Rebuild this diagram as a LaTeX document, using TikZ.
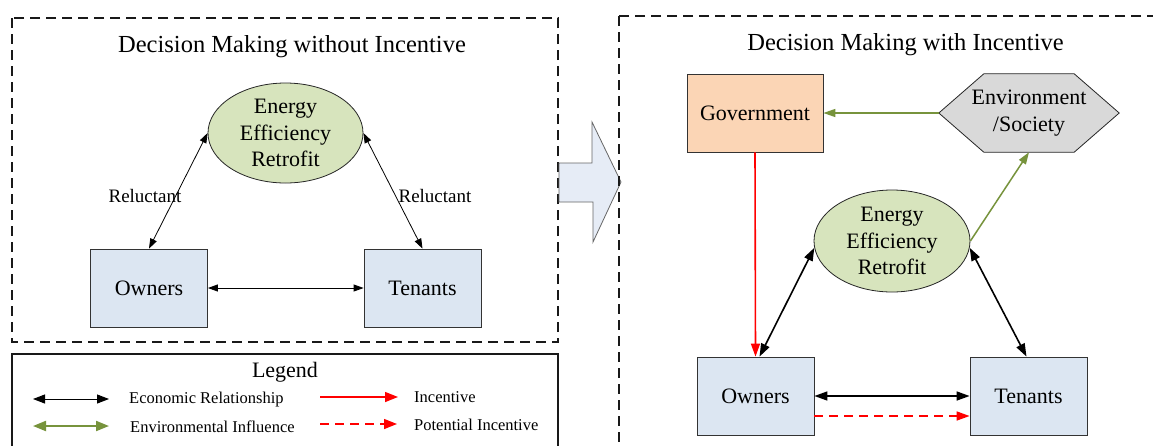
\documentclass[tikz,border=0pt]{standalone}
\usepackage{fontspec}
\setmainfont{Liberation Serif}
\usetikzlibrary{arrows.meta,shapes.geometric,calc}
\definecolor{boxblue}{HTML}{DCE6F2}
\definecolor{eegreen}{HTML}{D7E4BD}
\definecolor{govorange}{HTML}{FBD5B5}
\definecolor{envgray}{HTML}{D9D9D9}
\definecolor{envline}{HTML}{77933C}
\definecolor{blockfill}{HTML}{E6ECF6}
\definecolor{incred}{HTML}{FF0000}
\tikzset{
  x=1pt, y=-1pt,
  nodefont/.style={font=\fontsize{22}{26.5}\selectfont},
  actor/.style={draw=black!80, line width=0.8pt, fill=boxblue, minimum width=117pt, minimum height=78pt, inner sep=0pt, nodefont},
  eer/.style={ellipse, draw=black!85, line width=0.8pt, fill=eegreen, inner sep=0pt, align=center, nodefont},
  titletext/.style={font=\fontsize{24.5}{29}\selectfont},
  relabel/.style={font=\fontsize{19}{22}\selectfont, inner sep=0pt},
  legtext/.style={font=\fontsize{16.5}{19}\selectfont, anchor=west, inner sep=0pt},
  panelbox/.style={draw=black!90, line width=1.7pt, dash pattern=on 10pt off 6pt},
  thinarr/.style={{Triangle[length=10pt,width=7pt]}-{Triangle[length=10pt,width=7pt]}, line width=0.8pt, black},
  thickarr/.style={{Triangle[length=13pt,width=9pt]}-{Triangle[length=13pt,width=9pt]}, line width=1.6pt, black},
  greenarr/.style={-{Triangle[length=12pt,width=8pt]}, line width=1.5pt, envline},
  redarr/.style={-{Triangle[length=13pt,width=9pt]}, line width=1.6pt, incred},
  legblack/.style={{Triangle[length=12pt,width=9pt]}-{Triangle[length=12pt,width=9pt]}, line width=1pt, black},
  leggreen/.style={{Triangle[length=13pt,width=10pt]}-{Triangle[length=13pt,width=10pt]}, line width=2pt, envline},
  legred/.style={-{Triangle[length=13pt,width=10pt]}, line width=1.4pt, incred},
}
\begin{document}
\begin{tikzpicture}
\clip (0,0) rectangle (1153,445);
\useasboundingbox (0,0) rectangle (1153,445);
\fill[white] (0,0) rectangle (1153,445);

% ---------- left panel ----------
\draw[panelbox] (12,18) rectangle (558,342);
\node[titletext] (titleL) at (292,47) {Decision Making without Incentive};
\node[eer, minimum width=155pt, minimum height=100pt] (eeL) at (285.5,133) {Energy\\Efficiency\\Retrofit};
\node[actor] (ownL) at (149,288) {Owners};
\node[actor] (tenL) at (422.5,288) {Tenants};
\draw[thinarr] (eeL.west) -- (ownL.north);
\draw[thinarr] (eeL.east) -- (tenL.north);
\draw[thinarr] (ownL.east) -- (tenL.west);
\node[relabel] (relL) at (145,196) {Reluctant};
\node[relabel] (relR) at (435,196) {Reluctant};

% ---------- legend ----------
\draw[draw=black!90, line width=1.5pt] (12,354) rectangle (558,460);
\node[font=\fontsize{22}{26}\selectfont] (legT) at (285,372) {Legend};
\coordinate (l1a) at (33,399); \coordinate (l1b) at (109,399);
\draw[legblack] (l1a) -- (l1b);
\node[legtext] (l1t) at (129,399.5) {Economic Relationship};
\coordinate (l2a) at (33,426); \coordinate (l2b) at (109,426);
\draw[leggreen] (l2a) -- (l2b);
\node[legtext] (l2t) at (130,426.5) {Environmental Influence};
\coordinate (l3a) at (320,397); \coordinate (l3b) at (398,397);
\draw[legred] (l3a) -- (l3b);
\node[legtext] (l3t) at (414,397) {Incentive};
\coordinate (l4a) at (320,424); \coordinate (l4b) at (397,424);
\draw[legred, dash pattern=on 9pt off 6pt] (l4a) -- (l4b);
\node[legtext] (l4t) at (414,424.5) {Potential Incentive};

% ---------- block arrow ----------
\draw[draw=black!60, line width=0.8pt, fill=blockfill] (559,163) -- (592,163) -- (592,122) -- (621,182) -- (593,242) -- (593,202) -- (559,202) -- cycle;

% ---------- right panel ----------
\draw[panelbox] (619,16) rectangle (1170,470);
\node[titletext] (titleR) at (905.5,45) {Decision Making with Incentive};
\node[draw=black!80, line width=0.8pt, fill=govorange, minimum width=136pt, minimum height=78pt, inner sep=0pt, nodefont] (gov) at (755,113) {Government};
\node[minimum width=180pt, minimum height=78pt, inner sep=0pt] (env) at (1029,113) {};
\draw[black!85, line width=0.8pt, fill=envgray] (env.west) -- ($(env.north west)+(45,0)$) -- ($(env.north east)+(-45,0)$) -- (env.east) -- ($(env.south east)+(-45,0)$) -- ($(env.south west)+(45,0)$) -- cycle;
\node[align=center, nodefont, inner sep=0pt] (envtxt) at (env.center) {Environment\\/Society};
\node[eer, minimum width=156pt, minimum height=102pt] (eeR) at (892,241) {Energy\\Efficiency\\Retrofit};
\node[actor] (ownR) at (755.5,396) {Owners};
\node[actor] (tenR) at (1028.5,396) {Tenants};
\draw[greenarr] (env.west) -- (gov.east);
\draw[greenarr] (eeR.east) -- (env.south);
\draw[redarr] (gov.south) -- (ownR.north);
\draw[thickarr] (eeR.185) -- ([xshift=4pt]ownR.north);
\draw[thickarr] (eeR.-5) -- ([xshift=-2pt]tenR.north);
\draw[thickarr] (ownR.east) -- (tenR.west);
\draw[redarr, dash pattern=on 9pt off 6pt] ([yshift=-20pt]ownR.east) -- ([yshift=-20pt]tenR.west);
\end{tikzpicture}
\end{document}
